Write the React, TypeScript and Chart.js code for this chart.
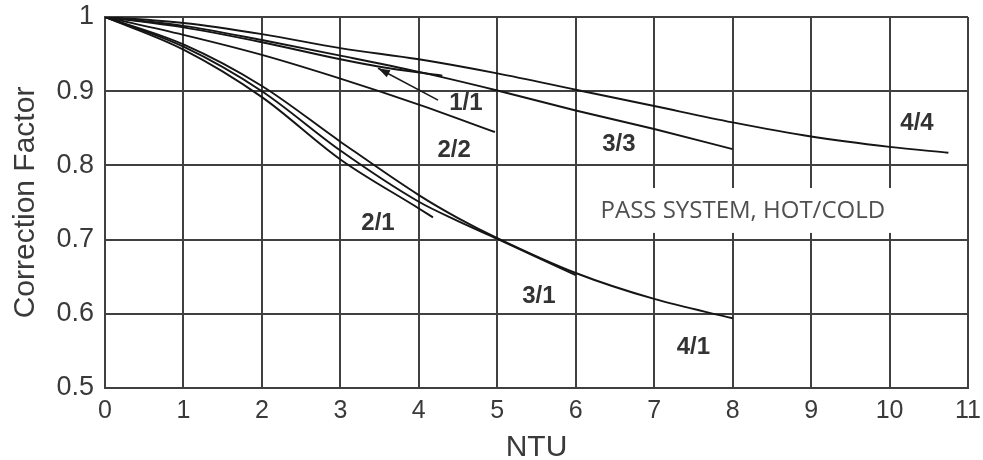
import React, { useEffect, useRef } from "react";
import { Chart, registerables } from "chart.js";

Chart.register(...registerables);

// NTU tick labels and correction factor ticks
const ntuTicks = [0, 1, 2, 3, 4, 5, 6, 7, 8, 9, 10, 11];
const factorTicks = [0.5, 0.6, 0.7, 0.8, 0.9, 1];

// Curves: pass system hot/cold
const ntu44 = [0, 1, 2, 3, 4, 5, 6, 7, 8, 9, 10, 10.75];
const cf44 = [1, 0.992, 0.977, 0.958, 0.943, 0.924, 0.902, 0.88, 0.858, 0.839, 0.825, 0.817];

const ntu33 = [0, 1, 2, 3, 4, 5, 6, 7, 8];
const cf33 = [1, 0.988, 0.969, 0.948, 0.926, 0.901, 0.874, 0.849, 0.822];

const ntu11 = [0, 1, 2, 3, 3.5, 4.3];
const cf11 = [1, 0.986, 0.966, 0.943, 0.933, 0.921];

const ntu22 = [0, 1, 2, 3, 4, 4.97];
const cf22 = [1, 0.976, 0.949, 0.917, 0.882, 0.845];

const ntu21 = [0, 1, 2, 3, 4, 4.18];
const cf21 = [1, 0.956, 0.892, 0.808, 0.742, 0.73];

const ntu31 = [0, 1, 2, 3, 4, 4.5, 5, 6];
const cf31 = [1, 0.96, 0.9, 0.82, 0.751, 0.725, 0.701, 0.652];

const ntu41 = [0, 1, 2, 3, 4, 4.5, 5, 6, 7, 8];
const cf41 = [1, 0.963, 0.907, 0.832, 0.76, 0.729, 0.702, 0.655, 0.62, 0.594];

// Curve labels (text + anchor in data coordinates)
const curveLabels = ["1/1", "2/2", "3/3", "4/4", "2/1", "3/1", "4/1"];
const labelNtu = [4.6, 4.45, 6.55, 10.35, 3.48, 5.53, 7.5];
const labelCf = [0.883, 0.82, 0.828, 0.856, 0.722, 0.623, 0.555];

// Leader arrow for 1/1 (from, to)
const arrowNtu = [4.245, 3.48];
const arrowCf = [0.888, 0.931];

// Note box
const noteText = "PASS SYSTEM, HOT/COLD";
const noteNtu = [6.08, 10.95];
const noteCf = [0.7695, 0.709];

const toPts = (xs: number[], ys: number[]) => xs.map((x, i) => ({ x, y: ys[i] }));

const series = [
  { name: "4/4", xs: ntu44, ys: cf44 },
  { name: "3/3", xs: ntu33, ys: cf33 },
  { name: "1/1", xs: ntu11, ys: cf11 },
  { name: "2/2", xs: ntu22, ys: cf22 },
  { name: "2/1", xs: ntu21, ys: cf21 },
  { name: "3/1", xs: ntu31, ys: cf31 },
  { name: "4/1", xs: ntu41, ys: cf41 },
];

const annotationPlugin = {
  id: "annotationPlugin",
  beforeDatasetsDraw(chart: any) {
    const { ctx, scales } = chart;
    const x = scales.x;
    const y = scales.y;
    const x0 = x.getPixelForValue(noteNtu[0]);
    const x1 = x.getPixelForValue(noteNtu[1]);
    const y0 = y.getPixelForValue(noteCf[0]);
    const y1 = y.getPixelForValue(noteCf[1]);
    ctx.save();
    ctx.fillStyle = "#ffffff";
    ctx.fillRect(x0, y0, x1 - x0, y1 - y0);
    ctx.fillStyle = "#505050";
    ctx.font = '24px "Open Sans"';
    ctx.textAlign = "center";
    ctx.textBaseline = "middle";
    ctx.fillText(noteText, x.getPixelForValue(8.13), y.getPixelForValue(0.738));
    ctx.restore();
  },
  afterDatasetsDraw(chart: any) {
    const { ctx, scales } = chart;
    const x = scales.x;
    const y = scales.y;
    ctx.save();
    ctx.fillStyle = "#333333";
    ctx.font = 'bold 24px "Liberation Sans", Arial, sans-serif';
    ctx.textAlign = "center";
    ctx.textBaseline = "middle";
    curveLabels.forEach((t, i) => {
      ctx.fillText(t, x.getPixelForValue(labelNtu[i]), y.getPixelForValue(labelCf[i]));
    });
    // leader arrow
    const ax0 = x.getPixelForValue(arrowNtu[0]);
    const ay0 = y.getPixelForValue(arrowCf[0]);
    const ax1 = x.getPixelForValue(arrowNtu[1]);
    const ay1 = y.getPixelForValue(arrowCf[1]);
    ctx.strokeStyle = "#1a1a1a";
    ctx.lineWidth = 1.6;
    ctx.beginPath();
    ctx.moveTo(ax0, ay0);
    ctx.lineTo(ax1, ay1);
    ctx.stroke();
    const ang = Math.atan2(ay1 - ay0, ax1 - ax0);
    const len = 12;
    const wid = 4;
    ctx.fillStyle = "#1a1a1a";
    ctx.beginPath();
    ctx.moveTo(ax1, ay1);
    ctx.lineTo(
      ax1 - len * Math.cos(ang) + wid * Math.sin(ang),
      ay1 - len * Math.sin(ang) - wid * Math.cos(ang)
    );
    ctx.lineTo(
      ax1 - len * Math.cos(ang) - wid * Math.sin(ang),
      ay1 - len * Math.sin(ang) + wid * Math.cos(ang)
    );
    ctx.closePath();
    ctx.fill();
    ctx.restore();
  },
};

export default function App() {
  const canvasRef = useRef<HTMLCanvasElement | null>(null);

  useEffect(() => {
    if (!canvasRef.current) return;
    const gridColor = "#404040";
    const chart = new Chart(canvasRef.current, {
      type: "line",
      data: {
        datasets: series.map((s) => ({
          label: s.name,
          data: toPts(s.xs, s.ys),
          borderColor: "#151515",
          borderWidth: 1.9,
          pointRadius: 0,
          fill: false,
          cubicInterpolationMode: "monotone" as const,
        })),
      },
      options: {
        animation: false,
        responsive: true,
        maintainAspectRatio: false,
        layout: { padding: { top: 17, right: 15, bottom: 0, left: 0 } },
        plugins: {
          legend: { display: false },
          tooltip: { enabled: false },
        },
        scales: {
          x: {
            type: "linear",
            min: 0,
            max: 11,
            afterBuildTicks: (scale: any) => {
              scale.ticks = ntuTicks.map((v) => ({ value: v }));
            },
            afterFit: (scale: any) => {
              scale.height = 72;
            },
            grid: { color: gridColor, lineWidth: 2, drawTicks: false },
            border: { display: true, color: gridColor, width: 2 },
            ticks: {
              color: "#3a3a3a",
              padding: 0,
              font: { family: '"Liberation Sans", Arial, sans-serif', size: 25, lineHeight: 1.84 },
              maxRotation: 0,
              autoSkip: false,
              callback: (v: any) => String(v),
            },
            title: {
              display: true,
              text: "NTU",
              color: "#3a3a3a",
              font: { family: '"Liberation Sans", Arial, sans-serif', size: 30, lineHeight: 0.8 },
              padding: { top: 0, bottom: 0 },
            },
          },
          y: {
            type: "linear",
            min: 0.5,
            max: 1,
            afterBuildTicks: (scale: any) => {
              scale.ticks = factorTicks.map((v) => ({ value: v }));
            },
            afterFit: (scale: any) => {
              scale.width = 105;
            },
            grid: { color: gridColor, lineWidth: 2, drawTicks: false },
            border: { display: true, color: gridColor, width: 2 },
            ticks: {
              color: "#3a3a3a",
              padding: 11,
              font: { family: '"Liberation Sans", Arial, sans-serif', size: 27, lineHeight: 0.4 },
              autoSkip: false,
              callback: (v: any) => (Number(v) === 1 ? "1" : Number(v).toFixed(1)),
            },
            title: {
              display: true,
              text: "Correction Factor",
              color: "#3a3a3a",
              font: { family: '"Liberation Sans", Arial, sans-serif', size: 30, lineHeight: 1 },
              padding: { top: 11, bottom: 0 },
            },
          },
        },
      },
      plugins: [annotationPlugin],
    });
    return () => chart.destroy();
  }, []);

  return (
    <div style={{ position: "absolute", left: 0, top: 0, width: 983, height: 460, background: "#fff" }}>
      <canvas ref={canvasRef} />
    </div>
  );
}
